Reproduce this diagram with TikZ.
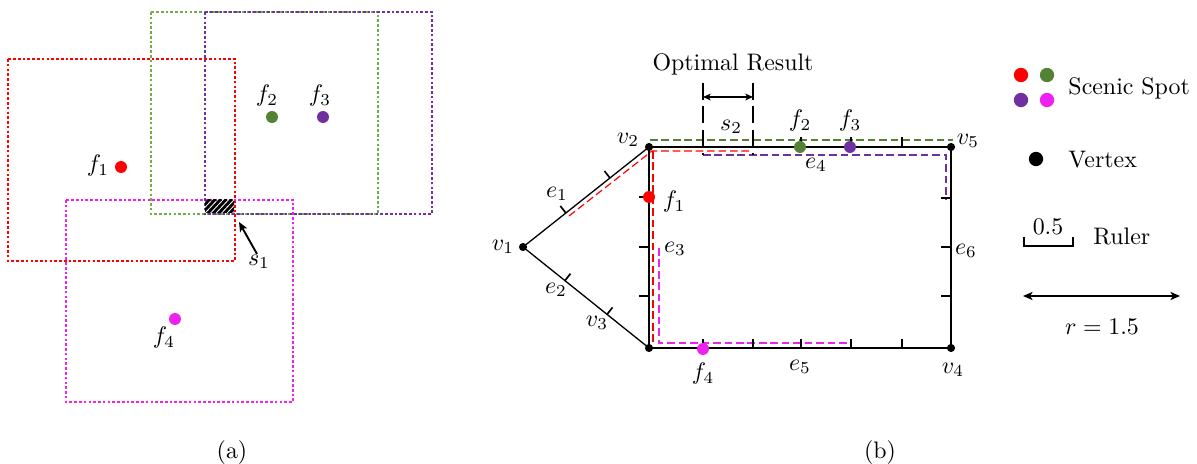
\documentclass[tikz,border=0pt]{standalone}
\usetikzlibrary{arrows.meta}
\definecolor{cred}{HTML}{FF0000}
\definecolor{cgreen}{HTML}{548235}
\definecolor{cgreenl}{HTML}{70AD47}
\definecolor{cpurple}{HTML}{7030A0}
\definecolor{cmag}{HTML}{EE22EE}
\begin{document}
\begin{tikzpicture}[x=0.4187pt,y=-0.4187pt,
  rectdot/.style={line width=0.7pt, dash pattern=on 1.1pt off 0.9pt},
  spot/.style={circle, fill=#1, inner sep=0pt, minimum size=5pt},
  lspot/.style={circle, fill=#1, inner sep=0pt, minimum size=6pt},
  vtx/.style={circle, fill=black, inner sep=0pt, minimum size=3.4pt},
  lab/.style={inner sep=0pt},
  edgethick/.style={line width=0.9pt},
  edgethin/.style={line width=0.55pt},
  tickmark/.style={line width=0.7pt},
  cover/.style={line width=0.5pt, dash pattern=on 3.2pt off 1.6pt},
  optline/.style={line width=0.6pt, dash pattern=on 7pt off 2.8pt},
  tip/.style={-{Stealth[length=4pt,width=3.4pt,inset=1pt]}},
  dtip/.style={{Stealth[length=4pt,width=3.4pt,inset=1pt]}-{Stealth[length=4pt,width=3.4pt,inset=1pt]}},
  stip/.style={{Stealth[length=3.2pt,width=2.8pt,inset=0.8pt]}-{Stealth[length=3.2pt,width=2.8pt,inset=0.8pt]}},
  ]
\useasboundingbox (0,0) rectangle (1197,464);

% ---------------- panel (a) ----------------
\draw[cred, rectdot] (8,59) rectangle (235,261);
\draw[cgreenl, rectdot] (151,12) rectangle (378,214);
\draw[cmag, rectdot] (66,200) rectangle (293,402);
\draw[cpurple, rectdot] (205,12) rectangle (432,214);
\begin{scope}
  \clip (205,200) rectangle (234,213);
  \foreach \i in {-20,-14.5,...,40} \draw[line width=1.2pt] (205+\i,214) -- (219+\i,199);
\end{scope}

\node[spot=cred] (a1) at (121,167) {};
\node[spot=cgreen] (a2) at (272,117) {};
\node[spot=cpurple] (a3) at (323,117) {};
\node[spot=cmag] (a4) at (175,319) {};
\node[lab] (la1) at (98,166) {$f_1$};
\node[lab] (la2) at (267,96) {$f_2$};
\node[lab] (la3) at (320,96) {$f_3$};
\node[lab] (la4) at (164,338) {$f_4$};
\node[lab] (ls1) at (259,262) {$s_1$};
\coordinate (s1from) at (257,254);
\coordinate (s1to) at (239,222);
\draw[tip, line width=0.8pt] (s1from) -- (s1to);
\node[lab] (capa) at (232,453) {(a)};

% ---------------- panel (b) ----------------
\node[vtx] (v1) at (523,247) {};
\node[vtx] (v2) at (649,147) {};
\node[vtx] (v3) at (649,348) {};
\node[vtx] (v4) at (951,348) {};
\node[vtx] (v5) at (951,147) {};

% coverage paths
\draw[cgreen, cover] (650,140) -- (953,140);
\draw[cpurple, cover] (703,155) -- (946,155) -- (946,199);
\draw[cred, cover] (569,216) -- (652,151) -- (752,151);
\draw[cred, cover] (653,151) -- (653,343);
\draw[cmag, cover] (659,248) -- (659,343) -- (852,343);

% edges
\draw[edgethin] (v1.center) -- (v2.center);
\draw[edgethin] (v1.center) -- (v3.center);
\draw[edgethick] (v2.center) -- (v5.center) -- (v4.center) -- (v3.center) -- cycle;

% ticks
\foreach \x in {703,753,801,851,902} \draw[tickmark] (\x,147) -- (\x,137);
\foreach \x in {703,753,801,851,902} \draw[tickmark] (\x,348) -- (\x,339);
\foreach \y in {197,247,296} \draw[tickmark] (649,\y) -- (639,\y);
\foreach \y in {198,247,296} \draw[tickmark] (951,\y) -- (941,\y);
\foreach \t in {0.34,0.69} \draw[tickmark] (523+126*\t,247-100*\t) -- ++(-5.5,-7);
\foreach \t in {0.333,0.667} \draw[tickmark] (523+126*\t,247+101*\t) -- ++(5.5,-7);

% optimal result
\coordinate (o1t) at (703,83);
\coordinate (o1b) at (703,155);
\coordinate (o2t) at (753,83);
\coordinate (o2b) at (753,155);
\draw[optline] (o1t) -- (o1b);
\draw[optline] (o2t) -- (o2b);
\coordinate (s2a) at (703,97);
\coordinate (s2b) at (753,97);
\draw[stip, line width=0.6pt] (s2a) -- (s2b);
\node[lab] (opt) at (733,64) {Optimal Result};
\node[lab] (ls2) at (731,127) {$s_2$};

% spots on graph
\node[spot=cred] (f1) at (649,197) {};
\node[spot=cgreen] (f2) at (800,147) {};
\node[spot=cpurple] (f3) at (850,147) {};
\node[spot=cmag] (f4) at (703,349) {};

% labels
\node[lab] (lv1) at (503,247) {$v_1$};
\node[lab] (lv2) at (628,140) {$v_2$};
\node[lab] (lv3) at (597,323) {$v_3$};
\node[lab] (lv4) at (953,370) {$v_4$};
\node[lab] (lv5) at (968,141) {$v_5$};
\node[lab] (le1) at (557,194) {$e_1$};
\node[lab] (le2) at (556,290) {$e_2$};
\node[lab] (le3) at (675,249) {$e_3$};
\node[lab] (le4) at (816,165) {$e_4$};
\node[lab] (le5) at (800,367) {$e_5$};
\node[lab] (le6) at (966,251) {$e_6$};
\node[lab] (lf1) at (674,202) {$f_1$};
\node[lab] (lf2) at (800,121) {$f_2$};
\node[lab] (lf3) at (850,121) {$f_3$};
\node[lab] (lf4) at (703,374) {$f_4$};
\node[lab] (capb) at (880,453) {(b)};

% ---------------- legend ----------------
\node[lspot=cred] (g1) at (1021,75) {};
\node[lspot=cgreen] (g2) at (1047,75) {};
\node[lspot=cpurple] (g3) at (1021,100) {};
\node[lspot=cmag] (g4) at (1047,100) {};
\node[lab, anchor=west] (lscenic) at (1068,88) {Scenic Spot};
\node[lspot=black] (gv) at (1036,159) {};
\node[lab, anchor=west] (lvertex) at (1068,160) {Vertex};
\coordinate (ra) at (1024,237);
\coordinate (rb) at (1073,237);
\draw[line width=0.8pt] (ra) -- (1024,246) -- (1073,246) -- (rb);
\node[lab] (lhalf) at (1048,227) {$0.5$};
\node[lab, anchor=west] (lruler) at (1093,236) {Ruler};
\coordinate (rr1) at (1023,296);
\coordinate (rr2) at (1180,296);
\draw[dtip, line width=0.6pt] (rr1) -- (rr2);
\node[lab] (lr) at (1102,327) {$r=1.5$};
\end{tikzpicture}
\end{document}
